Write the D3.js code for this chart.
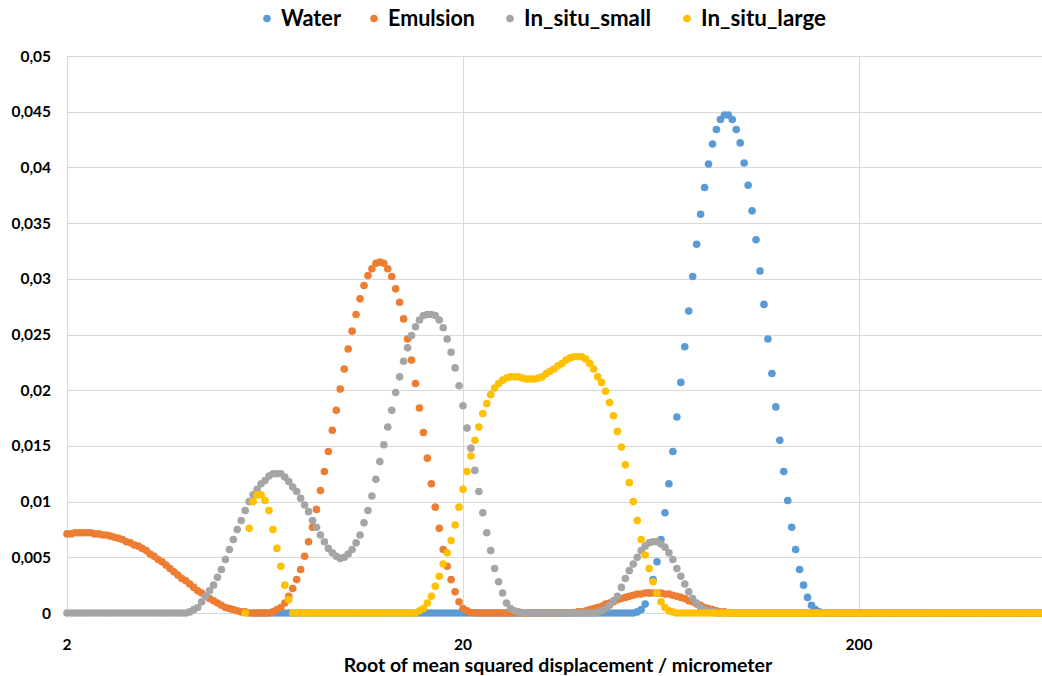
<!DOCTYPE html>
<html><head><meta charset="utf-8">
<script src="https://cdn.jsdelivr.net/npm/d3@7"></script>
<style>body{margin:0;background:#fff}svg{display:block}</style>
</head><body>
<svg id="chart" width="1042" height="676"></svg>
<script>
// ---------- data ----------
const seriesNames = ["Water", "Emulsion", "In_situ_small", "In_situ_large"];
const seriesColors = ["#5B9BD5", "#ED7D31", "#A5A5A5", "#FFC000"];
const xTicks = [2, 20, 200];
const xTickLabels = ["2", "20", "200"];
const yTicks = [0, 0.005, 0.01, 0.015, 0.02, 0.025, 0.03, 0.035, 0.04, 0.045, 0.05];
const yTickLabels = ["0", "0,005", "0,01", "0,015", "0,02", "0,025", "0,03", "0,035", "0,04", "0,045", "0,05"];
const xTitle = "Root of mean squared displacement / micrometer";

// sampling grid of the distributions: log-spaced, 100 points per decade starting at 2 micrometer
const gridStart = 2, pointsPerDecade = 100, pointCount = 247;
const xValues = d3.range(pointCount).map(i => gridStart * Math.pow(10, i / pointsPerDecade));

// one line = 10 grid points; comment = index of first point on the line
const water = [
/*0*/   null,null,null,null,null,null,null,null,null,null,
/*10*/  null,null,null,null,null,null,null,null,null,null,
/*20*/  null,null,null,null,null,null,null,null,null,null,
/*30*/  null,null,null,null,null,null,null,null,null,null,
/*40*/  null,null,null,null,null,null,null,0,0,0,
/*50*/  0,0,0,0,0,0,0,0,0,0,
/*60*/  0,0,0,0,0,0,0,0,0,0,
/*70*/  0,0,0,0,0,0,0,0,0,0,
/*80*/  0,0,0,0,0,0,0,0,0,0,
/*90*/  0,0,0,0,0,0,0,0,0,0,
/*100*/ 0,0,0,0,0,0,0,0,0,0,
/*110*/ 0,0,0,0,0,0,0,0,0,0,
/*120*/ 0,0,0,0,0,0,0,0,0,0,
/*130*/ 0,0,0,0,0,0,0,0,0,0,
/*140*/ 0,0,0,0,0.0001,0.0003,0.0008,0.0018,0.0030,0.0046,
/*150*/ 0.0066,0.0090,0.0116,0.0145,0.0176,0.0207,0.0239,0.0271,0.0302,0.0331,
/*160*/ 0.0358,0.0382,0.0403,0.0421,0.0434,0.0443,0.0447,0.0447,0.0443,0.0434,
/*170*/ 0.0422,0.0404,0.0384,0.0361,0.0335,0.0307,0.0277,0.0246,0.0215,0.0185,
/*180*/ 0.0155,0.0127,0.0101,0.0077,0.0057,0.0039,0.0025,0.0014,0.0007,0.0003,
/*190*/ 0.0001,0,0,0,0,0,0,0,0,0,
/*200*/ 0,0,0,0,0,0,0,0,0,0,
/*210*/ 0,0,0,0,0,0,0,0,0,0,
/*220*/ 0,0,0,0,0,0,0,0,0,0,
/*230*/ 0,0,0,0,0,0,0,0,0,0,
/*240*/ 0,0,0,0,0,0,0
];

const emulsion = [
/*0*/   0.0071,0.0071,0.0072,0.0072,0.0072,0.0072,0.0072,0.0071,0.0071,0.0070,
/*10*/  0.0070,0.0069,0.0068,0.0067,0.0066,0.0064,0.0063,0.0061,0.0060,0.0058,
/*20*/  0.0056,0.0053,0.0051,0.0048,0.0046,0.0043,0.0040,0.0037,0.0034,0.0031,
/*30*/  0.0029,0.0026,0.0023,0.0020,0.0018,0.0015,0.0013,0.0011,0.0009,0.0007,
/*40*/  0.0005,0.0004,0.0003,0.0002,0.0001,0.0001,0,0,0,0,
/*50*/  0,0,0.0001,0.0003,0.0005,0.0009,0.0015,0.0022,0.0030,0.0039,
/*60*/  0.0051,0.0064,0.0077,0.0093,0.0110,0.0127,0.0145,0.0164,0.0182,0.0201,
/*70*/  0.0219,0.0237,0.0253,0.0268,0.0282,0.0294,0.0303,0.0309,0.0314,0.0315,
/*80*/  0.0314,0.0309,0.0302,0.0291,0.0279,0.0264,0.0246,0.0227,0.0206,0.0184,
/*90*/  0.0162,0.0139,0.0116,0.0095,0.0076,0.0057,0.0042,0.0030,0.0019,0.0010,
/*100*/ 0.0004,0.0002,0.00005,0,0,0,0,0,0,0,
/*110*/ 0,0,0,0,0,0,0,0,0,0,
/*120*/ 0,0,0,0,0,0,0,0,0.00005,0.0001,
/*130*/ 0.0001,0.0002,0.0003,0.0004,0.0005,0.0006,0.0008,0.0009,0.0010,0.0012,
/*140*/ 0.0013,0.0014,0.0015,0.0016,0.0017,0.0017,0.0018,0.0018,0.0018,0.0018,
/*150*/ 0.0018,0.0017,0.0017,0.0016,0.0015,0.0014,0.0013,0.0011,0.0010,0.0008,
/*160*/ 0.0007,0.0005,0.0004,0.0003,0.0002,0.0001,0.0001,0,0,0,
/*170*/ 0,0,0,0,0,0,0,0,0,0,
/*180*/ 0,0,0,0,0,0,0,0,0,0,
/*190*/ 0,0,0,0,0,0,0,0,0,0,
/*200*/ 0,0,0,0,0,0,0,0,0,0,
/*210*/ 0,0,0,0,0,0,0,0,0,0,
/*220*/ 0,0,0,0,0,0,0,0,0,0,
/*230*/ 0,0,0,0,0,0,0,0,0,0,
/*240*/ 0,0,0,0,0,0,0
];

const inSituSmall = [
/*0*/   0,0,0,0,0,0,0,0,0,0,
/*10*/  0,0,0,0,0,0,0,0,0,0,
/*20*/  0,0,0,0,0,0,0,0,0,0,
/*30*/  0,0.0001,0.0003,0.0005,0.0010,0.0015,0.0020,0.0025,0.0032,0.0039,
/*40*/  0.0048,0.0057,0.0066,0.0075,0.0083,0.0092,0.0100,0.0106,0.0111,0.0116,
/*50*/  0.0119,0.0123,0.0125,0.0125,0.0125,0.0122,0.0118,0.0113,0.0109,0.0103,
/*60*/  0.0097,0.0091,0.0083,0.0077,0.0070,0.0064,0.0058,0.0054,0.0051,0.0049,
/*70*/  0.0050,0.0053,0.0057,0.0063,0.0070,0.0081,0.0092,0.0105,0.0120,0.0136,
/*80*/  0.0151,0.0167,0.0182,0.0198,0.0212,0.0226,0.0238,0.0249,0.0257,0.0263,
/*90*/  0.0267,0.0268,0.0268,0.0267,0.0263,0.0256,0.0246,0.0234,0.0220,0.0204,
/*100*/ 0.0186,0.0166,0.0148,0.0128,0.0109,0.0090,0.0072,0.0056,0.0040,0.0028,
/*110*/ 0.0018,0.0009,0.0004,0.0002,0.0001,0,0,0,0,0,
/*120*/ 0,0,0,0,0,0,0,0,0,0,
/*130*/ 0,0,0,0,0.00005,0.0002,0.0004,0.0007,0.0011,0.0015,
/*140*/ 0.0023,0.0031,0.0038,0.0044,0.0050,0.0056,0.0060,0.0063,0.0064,0.0064,
/*150*/ 0.0062,0.0059,0.0054,0.0048,0.0040,0.0033,0.0026,0.0019,0.0013,0.0009,
/*160*/ 0.0005,0.0003,0.0002,0.0001,0,0,0,0,0,0,
/*170*/ 0,0,0,0,0,0,0,0,0,0,
/*180*/ 0,0,0,0,0,0,0,0,0,0,
/*190*/ 0,0,0,0,0,0,0,0,0,0,
/*200*/ 0,0,0,0,0,0,0,0,0,0,
/*210*/ 0,0,0,0,0,0,0,0,0,0,
/*220*/ 0,0,0,0,0,0,0,0,0,0,
/*230*/ 0,0,0,0,0,0,0,0,0,0,
/*240*/ 0,0,0,0,0,0,0
];

const inSituLarge = [
/*0*/   null,null,null,null,null,null,null,null,null,null,
/*10*/  null,null,null,null,null,null,null,null,null,null,
/*20*/  null,null,null,null,null,null,null,null,null,null,
/*30*/  null,null,null,null,null,null,null,null,null,null,
/*40*/  null,null,null,null,null,0,0.0076,0.0100,0.0106,0.0106,
/*50*/  0.0101,0.0092,0.0075,0.0058,0.0042,0.0025,0.0012,0,0,0,
/*60*/  0,0,0,0,0,0,0,0,0,0,
/*70*/  0,0,0,0,0,0,0,0,0,0,
/*80*/  0,0,0,0,0,0,0,0,0,0.0002,
/*90*/  0.0004,0.0009,0.0015,0.0024,0.0033,0.0044,0.0054,0.0065,0.0079,0.0095,
/*100*/ 0.0111,0.0127,0.0141,0.0155,0.0167,0.0179,0.0188,0.0196,0.0202,0.0206,
/*110*/ 0.0209,0.0211,0.0212,0.0212,0.0212,0.0211,0.0210,0.0210,0.0210,0.0211,
/*120*/ 0.0212,0.0215,0.0217,0.0219,0.0222,0.0224,0.0227,0.0229,0.0230,0.0230,
/*130*/ 0.0230,0.0228,0.0224,0.0219,0.0212,0.0207,0.0199,0.0189,0.0177,0.0163,
/*140*/ 0.0149,0.0133,0.0117,0.0100,0.0083,0.0066,0.0052,0.0040,0.0028,0.0018,
/*150*/ 0.0010,0.0005,0.0002,0.0001,0,0,0,0,0,0,
/*160*/ 0,0,0,0,0,0,0,0,0,0,
/*170*/ 0,0,0,0,0,0,0,0,0,0,
/*180*/ 0,0,0,0,0,0,0,0,0,0,
/*190*/ 0,0,0,0,0,0,0,0,0,0,
/*200*/ 0,0,0,0,0,0,0,0,0,0,
/*210*/ 0,0,0,0,0,0,0,0,0,0,
/*220*/ 0,0,0,0,0,0,0,0,0,0,
/*230*/ 0,0,0,0,0,0,0,0,0,0,
/*240*/ 0,0,0,0,0,0,0
];

const seriesValues = [water, emulsion, inSituSmall, inSituLarge];

// ---------- layout ----------
const W = 1042, H = 676;
const plot = { left: 67, top: 56, bottom: 613 };
const font = "Lato, 'Open Sans', sans-serif";
const svg = d3.select("#chart");

const x = d3.scaleLog().domain([2, 2000]).range([plot.left, plot.left + 396 * 3]);
const y = d3.scaleLinear().domain([0, 0.05]).range([plot.bottom, plot.top]);

// gridlines
const g = svg.append("g");
g.selectAll("line.h").data(yTicks).join("line")
  .attr("x1", plot.left).attr("x2", W + 300)
  .attr("y1", d => Math.round(y(d)) + 0.5).attr("y2", d => Math.round(y(d)) + 0.5)
  .attr("stroke", "#d9d9d9").attr("stroke-width", 1);
g.selectAll("line.v").data(xTicks).join("line")
  .attr("x1", d => Math.round(x(d)) + 0.5).attr("x2", d => Math.round(x(d)) + 0.5)
  .attr("y1", plot.top).attr("y2", plot.bottom)
  .attr("stroke", "#d9d9d9").attr("stroke-width", 1);

// y tick labels
svg.append("g").selectAll("text").data(yTicks).join("text")
  .attr("x", 51).attr("y", d => y(d) + 5.5)
  .attr("text-anchor", "end")
  .attr("font-family", font).attr("font-weight", "bold").attr("font-size", 15.5)
  .attr("fill", "#000")
  .text((d, i) => yTickLabels[i]);

// x tick labels
svg.append("g").selectAll("text").data(xTicks).join("text")
  .attr("x", d => x(d)).attr("y", 650)
  .attr("text-anchor", "middle")
  .attr("font-family", font).attr("font-weight", "bold").attr("font-size", 15.5)
  .attr("fill", "#000")
  .text((d, i) => xTickLabels[i]);

// axis title
svg.append("text")
  .attr("x", 558).attr("y", 672)
  .attr("text-anchor", "middle")
  .attr("font-family", font).attr("font-weight", "bold").attr("font-size", 19.5)
  .attr("fill", "#000")
  .text(xTitle);

// series markers (later series drawn on top)
seriesValues.forEach((vals, s) => {
  const pts = xValues.map((xv, i) => ({ x: xv, v: vals[i] }))
    .filter(d => d.v !== null && d.v !== undefined);
  svg.append("g").selectAll("circle").data(pts).join("circle")
    .attr("cx", d => x(d.x)).attr("cy", d => y(d.v))
    .attr("r", 3.8)
    .attr("fill", seriesColors[s]);
});

// legend
const legendMarkerX = [267, 374, 510, 687];
const legendTextWidth = [60, 87, 127, 125];
const lg = svg.append("g");
seriesNames.forEach((name, i) => {
  lg.append("circle").attr("cx", legendMarkerX[i]).attr("cy", 18.5).attr("r", 3.8).attr("fill", seriesColors[i]);
  lg.append("text")
    .attr("x", legendMarkerX[i] + 14).attr("y", 26)
    .attr("font-family", font).attr("font-weight", "bold").attr("font-size", 22)
    .attr("textLength", legendTextWidth[i]).attr("lengthAdjust", "spacingAndGlyphs")
    .attr("fill", "#000").text(name);
});
</script>
</body></html>
